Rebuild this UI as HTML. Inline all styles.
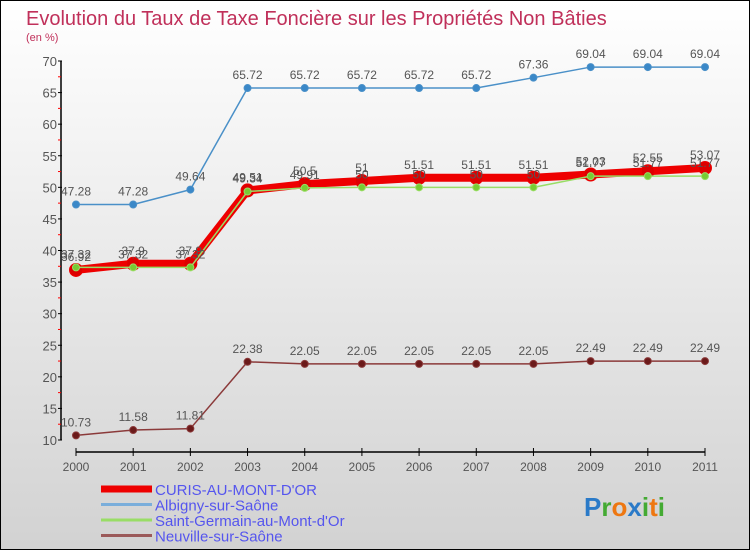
<!DOCTYPE html>
<html><head><meta charset="utf-8"><style>
body{margin:0}
#wrap{width:748px;height:548px;border:1px solid #000;background:linear-gradient(#ffffff,#d2d2d2);position:relative;overflow:hidden;font-family:"Liberation Sans",sans-serif}
</style></head><body>
<div id="wrap">
<svg id="chart" width="748" height="548" font-family="Liberation Sans, sans-serif"></svg>
</div>
<script>
const years=["2000","2001","2002","2003","2004","2005","2006","2007","2008","2009","2010","2011"];
const yTicks=[10,15,20,25,30,35,40,45,50,55,60,65,70];
const curis=[36.92,37.9,37.9,49.51,50.5,51,51.51,51.51,51.51,52.03,52.55,53.07];
const albigny=[47.28,47.28,49.64,65.72,65.72,65.72,65.72,65.72,67.36,69.04,69.04,69.04];
const stgermain=[37.32,37.32,37.32,49.34,49.91,50,50,50,50,51.77,51.77,51.77];
const neuville=[10.73,11.58,11.81,22.38,22.05,22.05,22.05,22.05,22.05,22.49,22.49,22.49];
const NS="http://www.w3.org/2000/svg";
const svg=document.getElementById('chart');
function X(i){return 75+i*(629/11);}
function Y(v){return 439-(v-10)*(379/60);}
function el(t,a,p){const e=document.createElementNS(NS,t);for(const k in a)e.setAttribute(k,a[k]);(p||svg).appendChild(e);return e;}
const title=el('text',{x:25,y:24,'font-size':20,fill:'#c0305a'});title.textContent="Evolution du Taux de Taxe Foncière sur les Propriétés Non Bâties";


const sub=el('text',{x:25,y:40,'font-size':11,fill:'#c0305a'});sub.textContent="(en %)";


const ya=el('line',{x1:60,y1:Y(70),x2:60,y2:Y(10),stroke:'#000','stroke-width':1.5});


yTicks.forEach((v,i)=>{
 el('line',{x1:57,y1:Y(v),x2:61,y2:Y(v),stroke:'#000'});
 if(i<yTicks.length-1) el('line',{x1:57,y1:Y(v+2.5),x2:60,y2:Y(v+2.5),stroke:'#f00'});
 const t=el('text',{x:56,y:Y(v)+5,'font-size':13,fill:'#555','text-anchor':'end'});t.textContent=v;
 
 
});
const xa=el('line',{x1:X(0),y1:451,x2:X(11),y2:451,stroke:'#000','stroke-width':1.5});


years.forEach((y,i)=>{
 el('line',{x1:X(i),y1:447,x2:X(i),y2:455,stroke:'#000'});
 const t=el('text',{x:X(i),y:470,'font-size':12,fill:'#555','text-anchor':'middle'});t.textContent=y;
 
 
});
function series(data,color,w,r,fill,name){
 const g=el('g',{});
 
 
 el('polyline',{points:data.map((v,i)=>X(i)+','+Y(v)).join(' '),fill:'none',stroke:color,'stroke-width':w,'stroke-linejoin':'round'},g);
 data.forEach((v,i)=>{
  const c=el('circle',{cx:X(i),cy:Y(v),r:r,fill:fill,stroke:color,'stroke-width':1},g);
  
  
  const t=el('text',{x:X(i),y:Y(v)-9,'font-size':12,fill:'#555','text-anchor':'middle'},g);t.textContent=v;
  
  
 });
}
series(neuville,'#8b3a3a',1.5,3.5,'#6b1a1a','series-neuville');
series(albigny,'#4a90c8',1.5,3.5,'#3a88c8','series-albigny');
series(curis,'#ee0000',8,6.5,'#dd0000','series-curis');
series(stgermain,'#99dd66',1.5,3.5,'#77cc33','series-saint-germain');
const leg=[["CURIS-AU-MONT-D'OR",'#ee0000',7],["Albigny-sur-Saône",'#7aaedb',3],["Saint-Germain-au-Mont-d'Or",'#99dd66',3],["Neuville-sur-Saône",'#9b5a5a',3]];
leg.forEach((l,i)=>{
 const g=el('g',{});
 
 
 const y=492+i*15.5;
 el('line',{x1:100,y1:y-4,x2:151,y2:y-4,stroke:l[1],'stroke-width':l[2]},g);
 const t=el('text',{x:154,y:y+2,'font-size':15,fill:'#5555ee'},g);t.textContent=l[0];
});
const lg=el('text',{x:583,y:515,'font-size':26,'font-weight':'bold'});


[["P","#2a7ac8"],["r","#44aa33"],["o","#ee7711"],["x","#2a7ac8"],["i","#44aa33"],["t","#ee7711"],["i","#44aa33"]].forEach(c=>{const s=el('tspan',{fill:c[1]},lg);s.textContent=c[0];});
</script>
</body></html>
